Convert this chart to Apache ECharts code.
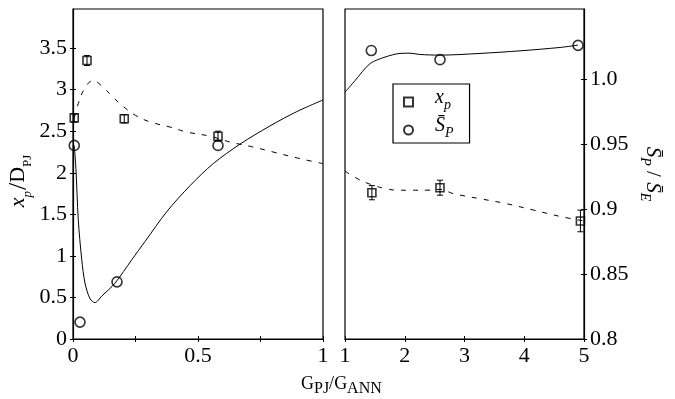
<!DOCTYPE html>
<html>
<head>
<meta charset="utf-8">
<script src="https://cdn.jsdelivr.net/npm/echarts@6/dist/echarts.min.js"></script>
<style>
  html, body { margin: 0; padding: 0; background: #fff; }
  #chart { width: 675px; height: 399px; }
</style>
</head>
<body>
<div id="chart"></div>
<script>
// Mass flux ratio G_PJ/G_ANN for each case, split into a low range (left panel) and a high range (right panel)

// Penetration length x_p/D_PJ with error half-widths
const xpLowRatio  = [0.005, 0.056, 0.205, 0.58];
const xpLow       = [2.66, 3.35, 2.65, 2.44];
const xpLowErr    = [0.05, 0.06, 0.05, 0.06];
const xpHighRatio = [1.45, 2.59, 4.94];
const xpHigh      = [1.76, 1.82, 1.42];
const xpHighErr   = [0.085, 0.09, 0.13];

// Mean pressure S_P/S_E
const spLowRatio  = [0.005, 0.028, 0.176, 0.58];
const spLow       = [0.949, 0.813, 0.844, 0.949];
const spHighRatio = [1.44, 2.59, 4.90];
const spHigh      = [1.022, 1.015, 1.026];

// Trend curves (dashed: x_p, solid: S_P)
const xpTrendLowRatio  = [0.005, 0.021, 0.044, 0.08, 0.12, 0.16, 0.2, 0.25, 0.31, 0.388, 0.455, 0.548, 0.628, 0.72, 0.8, 0.908, 1.0];
const xpTrendLow       = [2.66, 2.83, 3.0, 3.11, 3.03, 2.91, 2.80, 2.69, 2.61, 2.55, 2.49, 2.44, 2.37, 2.31, 2.25, 2.17, 2.11];
const xpTrendHighRatio = [1.0, 1.23, 1.43, 1.67, 1.89, 2.11, 2.35, 2.59, 2.81, 3.24, 3.69, 4.16, 4.63, 5.0];
const xpTrendHigh      = [2.02, 1.92, 1.86, 1.81, 1.79, 1.79, 1.79, 1.80, 1.75, 1.69, 1.63, 1.55, 1.47, 1.42];

const spTrendLowRatio  = [0.005, 0.012, 0.021, 0.035, 0.048, 0.068, 0.088, 0.115, 0.168, 0.235, 0.288, 0.375, 0.468, 0.561, 0.668, 0.788, 0.895, 1.0];
const spTrendLow       = [0.949, 0.930, 0.892, 0.861, 0.843, 0.831, 0.828, 0.833, 0.843, 0.861, 0.875, 0.898, 0.918, 0.935, 0.950, 0.964, 0.975, 0.984];
const spTrendHighRatio = [1.0, 1.17, 1.42, 1.67, 1.92, 2.09, 2.25, 2.59, 3.26, 3.93, 4.60, 4.90];
const spTrendHigh      = [0.990, 0.999, 1.012, 1.017, 1.0198, 1.020, 1.019, 1.0185, 1.0198, 1.0218, 1.0244, 1.0262];

// Tick values
const xpTicks = [0, 0.5, 1, 1.5, 2, 2.5, 3, 3.5];
const spTicks = [0.8, 0.85, 0.9, 0.95, 1.0];
const lowRatioTicks = [0, 0.25, 0.5, 0.75, 1];
const lowRatioLabels = [0, 0.5, 1];
const highRatioTicks = [1, 2, 3, 4, 5];

const FONT = "'Liberation Serif', 'Times New Roman', serif";
const XP_MIN = 0, XP_MAX = 3.97;
const SP_MIN = 0.8, SP_MAX = 1.054;

const pairs = (xs, ys) => xs.map((x, i) => [x, ys[i]]);
const bars = (xs, ys, es) => xs.map((x, i) => [x, ys[i] - es[i], ys[i] + es[i]]);

function errorBarItem(params, api) {
  const x = api.value(0);
  const top = api.coord([x, api.value(2)]);
  const bot = api.coord([x, api.value(1)]);
  const w = 3;
  const st = { stroke: '#000', lineWidth: 1 };
  return {
    type: 'group',
    children: [
      { type: 'line', shape: { x1: top[0], y1: top[1], x2: bot[0], y2: bot[1] }, style: st },
      { type: 'line', shape: { x1: top[0] - w, y1: top[1], x2: top[0] + w, y2: top[1] }, style: st },
      { type: 'line', shape: { x1: bot[0] - w, y1: bot[1], x2: bot[0] + w, y2: bot[1] }, style: st }
    ]
  };
}

const labelStyle = { color: '#000', fontFamily: FONT, fontSize: 22 };
const lineAxis = { lineStyle: { color: '#000', width: 1.2 } };
const tickOut = ticks => ({ inside: false, length: 3, customValues: ticks, lineStyle: { color: '#000' } });
const tickIn  = ticks => ({ inside: true,  length: 3, customValues: ticks, lineStyle: { color: '#000' } });

const squareStyle = { color: 'rgba(0,0,0,0)', borderColor: '#000', borderWidth: 1.6 };
const circleStyle = { color: 'rgba(0,0,0,0)', borderColor: '#000', borderWidth: 1.6 };

const chart = echarts.init(document.getElementById('chart'), null, { renderer: 'canvas' });

chart.setOption({
  animation: false,
  backgroundColor: '#fff',
  grid: [
    { left: 73, top: 9, width: 250, height: 330, show: true, borderColor: '#000', borderWidth: 1.2, backgroundColor: 'rgba(0,0,0,0)' },
    { left: 345, top: 9, width: 239, height: 330, show: true, borderColor: '#000', borderWidth: 1.2, backgroundColor: 'rgba(0,0,0,0)' }
  ],
  xAxis: [
    { gridIndex: 0, type: 'value', min: 0, max: 1, position: 'bottom',
      axisLine: lineAxis, splitLine: { show: false }, axisTick: tickOut(lowRatioTicks),
      axisLabel: Object.assign({ margin: 6, customValues: lowRatioLabels }, labelStyle) },
    { gridIndex: 0, type: 'value', min: 0, max: 1, position: 'bottom',
      axisLine: { show: false }, splitLine: { show: false }, axisLabel: { show: false },
      axisTick: tickIn(lowRatioTicks) },
    { gridIndex: 1, type: 'value', min: 1, max: 5, position: 'bottom',
      axisLine: lineAxis, splitLine: { show: false }, axisTick: tickOut(highRatioTicks),
      axisLabel: Object.assign({ margin: 6, customValues: highRatioTicks }, labelStyle) },
    { gridIndex: 1, type: 'value', min: 1, max: 5, position: 'bottom',
      axisLine: { show: false }, splitLine: { show: false }, axisLabel: { show: false },
      axisTick: tickIn(highRatioTicks) }
  ],
  yAxis: [
    { gridIndex: 0, type: 'value', min: XP_MIN, max: XP_MAX, position: 'left',
      axisLine: lineAxis, splitLine: { show: false }, axisTick: tickOut(xpTicks),
      axisLabel: Object.assign({ margin: 6, customValues: xpTicks }, labelStyle),
      name: '{m|x}{s|p}{sl|/}{r|D}{rs|PJ}{gap|}', nameLocation: 'middle', nameRotate: 90, nameGap: 39,
      nameTextStyle: { rich: {
        m:   { fontFamily: FONT, fontStyle: 'italic', fontSize: 22, color: '#000', verticalAlign: 'bottom', padding: [0, 0, 5, 0] },
        s:   { fontFamily: FONT, fontStyle: 'italic', fontSize: 13, color: '#000', verticalAlign: 'bottom' },
        sl:  { fontFamily: FONT, fontSize: 26, color: '#000', verticalAlign: 'bottom', padding: [0, 0, 2, 1] },
        r:   { fontFamily: FONT, fontSize: 22, color: '#000', verticalAlign: 'bottom', padding: [0, 0, 5, 0] },
        rs:  { fontFamily: FONT, fontSize: 13, color: '#000', verticalAlign: 'bottom' },
        gap: { width: 14 }
      } } },
    { gridIndex: 0, type: 'value', min: XP_MIN, max: XP_MAX, position: 'left',
      axisLine: { show: false }, splitLine: { show: false }, axisLabel: { show: false },
      axisTick: tickIn(xpTicks) },
    { gridIndex: 0, type: 'value', min: SP_MIN, max: SP_MAX, position: 'right', show: false },
    { gridIndex: 1, type: 'value', min: XP_MIN, max: XP_MAX, position: 'left', show: false },
    { gridIndex: 1, type: 'value', min: SP_MIN, max: SP_MAX, position: 'right',
      axisLine: lineAxis, splitLine: { show: false }, axisTick: tickOut(spTicks),
      axisLabel: Object.assign({ margin: 6, customValues: spTicks,
        formatter: v => (Math.abs(v - 1) < 1e-9 ? '1.0' : String(+v.toFixed(2))) }, labelStyle),
      name: '{m|S\u0304}{s|P}{sl| / }{m|S\u0304}{s|E}', nameLocation: 'middle', nameRotate: -90, nameGap: 54,
      nameTextStyle: { rich: {
        m:  { fontFamily: FONT, fontStyle: 'italic', fontSize: 21, color: '#000', verticalAlign: 'bottom', padding: [0, 0, 4, 0] },
        s:  { fontFamily: FONT, fontStyle: 'italic', fontSize: 14, color: '#000', verticalAlign: 'bottom' },
        sl: { fontFamily: FONT, fontSize: 21, color: '#000', verticalAlign: 'bottom', padding: [0, 0, 4, 0] }
      } } },
    { gridIndex: 1, type: 'value', min: SP_MIN, max: SP_MAX, position: 'right',
      axisLine: { show: false }, splitLine: { show: false }, axisLabel: { show: false },
      axisTick: tickIn(spTicks) }
  ],
  legend: {
    data: ['xp', 'sp'],
    orient: 'vertical',
    left: 393, top: 84,
    padding: [4, 16, 3, 10],
    itemWidth: 9, itemHeight: 9, itemGap: 4,
    borderColor: '#000', borderWidth: 1.2,
    backgroundColor: '#fff',
    formatter: n => n === 'xp' ? '{g|}{m|x}{s|p}' : '{g|}{m|S\u0304}{s|P}',
    textStyle: { rich: {
      g: { width: 17 },
      m: { fontFamily: FONT, fontStyle: 'italic', fontSize: 20, lineHeight: 20, color: '#000', verticalAlign: 'bottom', padding: [0, 0, 4, 0] },
      s: { fontFamily: FONT, fontStyle: 'italic', fontSize: 14, lineHeight: 16, color: '#000', verticalAlign: 'bottom' }
    } }
  },
  graphic: [
    { type: 'text', left: 301, top: 375, silent: true,
      style: { rich: {
        g: { fontFamily: FONT, fontSize: 18, fill: '#000', verticalAlign: 'bottom', padding: [0, 0, 4, 0] },
        s: { fontFamily: FONT, fontSize: 16, fill: '#000', verticalAlign: 'bottom' }
      }, text: '{g|G}{s|PJ}{g|/G}{s|ANN}' } }
  ],
  series: [
    { type: 'line', xAxisIndex: 0, yAxisIndex: 0, data: pairs(xpTrendLowRatio, xpTrendLow), smooth: 0.4,
      symbol: 'none', lineStyle: { color: '#000', width: 1, type: [5, 7] }, z: 1 },
    { type: 'line', xAxisIndex: 2, yAxisIndex: 3, data: pairs(xpTrendHighRatio, xpTrendHigh), smooth: 0.4,
      symbol: 'none', lineStyle: { color: '#000', width: 1, type: [5, 7] }, z: 1 },
    { type: 'line', xAxisIndex: 0, yAxisIndex: 2, data: pairs(spTrendLowRatio, spTrendLow), smooth: 0.3,
      symbol: 'none', lineStyle: { color: '#000', width: 1 }, z: 1 },
    { type: 'line', xAxisIndex: 2, yAxisIndex: 4, data: pairs(spTrendHighRatio, spTrendHigh), smooth: 0.3,
      symbol: 'none', lineStyle: { color: '#000', width: 1 }, z: 1 },
    { type: 'custom', xAxisIndex: 0, yAxisIndex: 0, renderItem: errorBarItem,
      encode: { x: 0, y: [1, 2] }, data: bars(xpLowRatio, xpLow, xpLowErr), z: 3 },
    { type: 'custom', xAxisIndex: 2, yAxisIndex: 3, renderItem: errorBarItem,
      encode: { x: 0, y: [1, 2] }, data: bars(xpHighRatio, xpHigh, xpHighErr), z: 3 },
    { name: 'xp', type: 'scatter', xAxisIndex: 0, yAxisIndex: 0, symbol: 'rect', symbolSize: 8,
      itemStyle: squareStyle, data: pairs(xpLowRatio, xpLow), z: 4 },
    { name: 'xp', type: 'scatter', xAxisIndex: 2, yAxisIndex: 3, symbol: 'rect', symbolSize: 8,
      itemStyle: squareStyle, data: pairs(xpHighRatio, xpHigh), z: 4 },
    { name: 'sp', type: 'scatter', xAxisIndex: 0, yAxisIndex: 2, symbol: 'circle', symbolSize: 10,
      itemStyle: circleStyle, data: pairs(spLowRatio, spLow), z: 4 },
    { name: 'sp', type: 'scatter', xAxisIndex: 2, yAxisIndex: 4, symbol: 'circle', symbolSize: 10,
      itemStyle: circleStyle, data: pairs(spHighRatio, spHigh), z: 4 }
  ]
});
</script>
</body>
</html>
